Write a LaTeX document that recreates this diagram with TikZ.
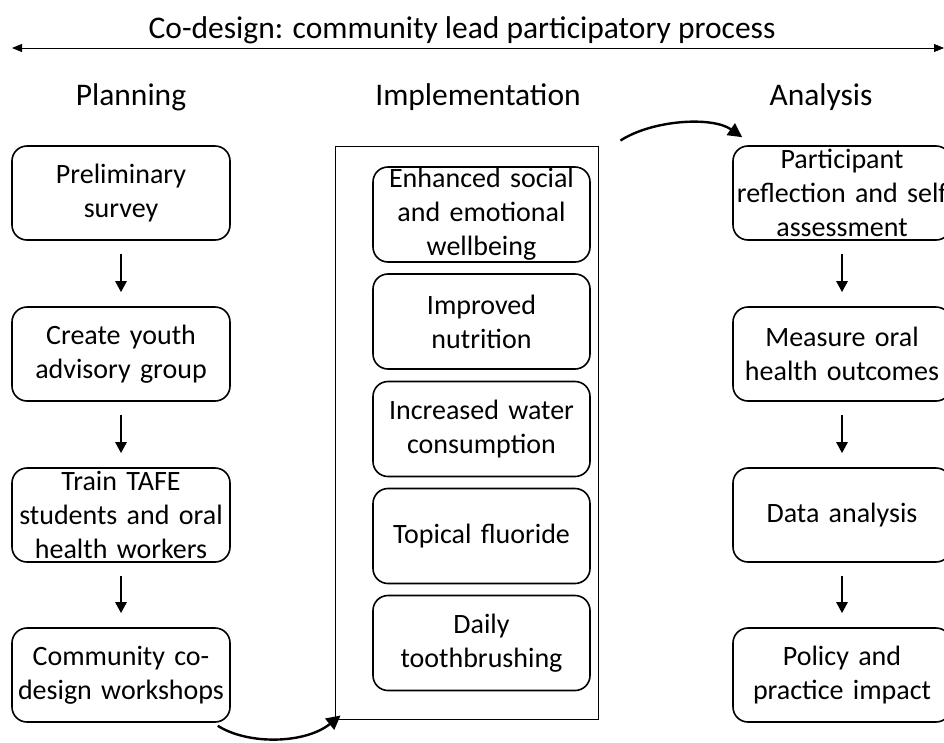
\documentclass[tikz,border=0pt]{standalone}
\usepackage{fontspec}
\setmainfont{Carlito}
\usetikzlibrary{arrows.meta}
\tikzset{
  box/.style={draw, line width=1.6pt, rounded corners=15pt, minimum width=218pt, minimum height=94pt, text width=216pt, align=center, inner sep=0pt, font=\fontsize{28}{34}\selectfont},
  ibox/.style={box, minimum width=217pt, minimum height=95pt},
  head/.style={font=\fontsize{31.5}{36}\selectfont, inner sep=0pt},
  darr/.style={line width=2.5pt, -{Triangle[length=11pt,width=11pt]}},
  carr/.style={line width=2.4pt, -{Triangle[length=14pt,width=14pt]}},
  tarr/.style={line width=0.8pt, {Triangle[length=10pt,width=8pt]}-{Triangle[length=10pt,width=8pt]}}
}
\begin{document}
\begin{tikzpicture}[x=1pt,y=-1pt]
\useasboundingbox (0,0) rectangle (944,742);
\node[head] (title) at (462,30) {Co-design: community lead participatory process};
\coordinate (tl) at (12,48);
\coordinate (tr) at (944,48);
\draw[tarr] (tl) -- (tr);
\node[head] (plan) at (131,97) {Planning};
\node[head] (impl) at (478,97) {Implementation};
\node[head] (anal) at (821,97) {Analysis};
% left column
\node[box] (l1) at (121,193) {Preliminary\\survey};
\node[box] (l2) at (121,354) {Create youth\\advisory group};
\node[box] (l3) at (121,515) {Train TAFE\\students and oral\\health workers};
\node[box] (l4) at (121,675) {Community co-\\design workshops};
\foreach \a/\b in {l1/l2,l2/l3,l3/l4}
  \draw[darr, shorten <=13pt, shorten >=14pt] (\a.south) -- (\b.north);
% middle
\node[draw, line width=0.9pt, minimum width=263pt, minimum height=573pt, inner sep=0pt] (mid) at (466.5,432.5) {};
\node[ibox] (m1) at (481.5,214.5) {Enhanced social\\and emotional\\wellbeing};
\node[ibox] (m2) at (481.5,321.5) {Improved\\nutrition};
\node[ibox] (m3) at (481.5,429) {Increased water\\consumption};
\node[ibox] (m4) at (481.5,536) {Topical fluoride};
\node[ibox] (m5) at (481.5,643) {Daily\\toothbrushing};
% right column
\node[box] (r1) at (842,193) {Participant\\reflection and self\\assessment};
\node[box] (r2) at (842,354) {Measure oral\\health outcomes};
\node[box] (r3) at (842,515) {Data analysis};
\node[box] (r4) at (842,675) {Policy and\\practice impact};
\foreach \a/\b in {r1/r2,r2/r3,r3/r4}
  \draw[darr, shorten <=13pt, shorten >=14pt] (\a.south) -- (\b.north);
% curved arrows
\draw[carr] ([shift={(-13,3)}]l4.south east) .. controls (248,745) and (305,744) .. ([shift={(6,-4)}]mid.south west);
\draw[carr] ([shift={(22,-5)}]mid.north east) .. controls (652,120) and (712,116) .. ([shift={(10,-8)}]r1.north west);
\end{tikzpicture}
\end{document}
